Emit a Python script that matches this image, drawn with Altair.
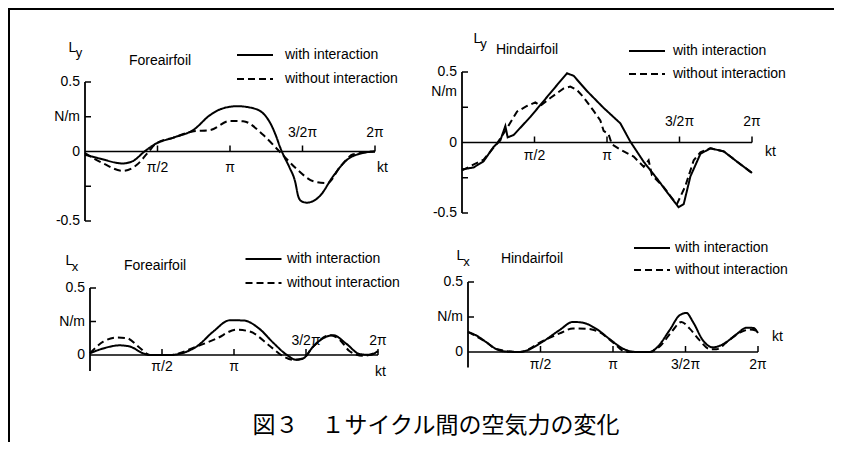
import altair as alt
import pandas as pd

FONT = "Liberation Sans"
CJK = "Noto Sans CJK JP"

series_names = ["with interaction", "without interaction"]

# x values are kt / pi (0 .. 2)
x_tick_values = [0.5, 1.0, 1.5, 2.0]
x_tick_labels = ["π/2", "π", "3/2π", "2π"]

# ---------------- Panel 1: Foreairfoil, Ly ----------------
fore_ly_with_x = [0, 0.10, 0.26, 0.33, 0.41, 0.49, 0.61, 0.75, 0.86, 0.95, 1.05, 1.18, 1.23, 1.28,
                  1.32, 1.345, 1.37, 1.41, 1.45, 1.47, 1.49, 1.53, 1.62, 1.71, 1.80, 1.92, 2.0]
fore_ly_with_y = [-0.024, -0.05, -0.086, -0.069, 0.0, 0.057, 0.10, 0.157, 0.26, 0.31, 0.326, 0.305,
                  0.273, 0.20, 0.105, 0.032, -0.029, -0.114, -0.22, -0.32, -0.356, -0.368, -0.32,
                  -0.18, -0.066, -0.01, 0.0]
fore_ly_without_x = [0, 0.13, 0.26, 0.36, 0.43, 0.49, 0.61, 0.75, 0.86, 1.0, 1.09, 1.23, 1.345,
                     1.46, 1.575, 1.67, 1.76, 1.85, 2.0]
fore_ly_without_y = [-0.012, -0.088, -0.139, -0.094, -0.013, 0.057, 0.10, 0.145, 0.153, 0.22, 0.218,
                     0.118, -0.004, -0.126, -0.214, -0.228, -0.11, -0.02, 0.0]

# ---------------- Panel 2: Hindairfoil, Ly ----------------
hind_ly_with_x = [0, 0.023, 0.08, 0.149, 0.218, 0.264, 0.299, 0.315, 0.356, 0.471, 0.563, 0.655,
                  0.724, 0.77, 0.862, 0.977, 1.092, 1.161, 1.253, 1.345, 1.414, 1.494, 1.529, 1.575,
                  1.644, 1.713, 1.805, 1.897, 2.0]
hind_ly_with_y = [-0.19, -0.187, -0.177, -0.133, -0.031, 0.014, 0.117, 0.036, 0.053, 0.181, 0.294,
                  0.407, 0.491, 0.473, 0.365, 0.245, 0.136, 0.006, -0.137, -0.256, -0.352, -0.459,
                  -0.437, -0.241, -0.081, -0.041, -0.063, -0.136, -0.216]
hind_ly_without_x = [0, 0.149, 0.241, 0.299, 0.379, 0.448, 0.506, 0.54, 0.609, 0.701, 0.747, 0.793,
                     0.839, 0.908, 0.954, 0.977, 1.011, 1.034, 1.092, 1.184, 1.253, 1.287, 1.31,
                     1.391, 1.46, 1.483, 1.54, 1.598, 1.644, 1.713, 1.805, 1.897, 2.0]
hind_ly_without_y = [-0.198, -0.121, -0.008, 0.083, 0.219, 0.259, 0.285, 0.26, 0.316, 0.383, 0.397,
                     0.372, 0.32, 0.224, 0.157, 0.082, 0.058, -0.013, -0.05, -0.10, -0.172, -0.126,
                     -0.232, -0.316, -0.411, -0.435, -0.31, -0.126, -0.069, -0.041, -0.063, -0.136,
                     -0.216]

# ---------------- Panel 3: Foreairfoil, Lx ----------------
fore_lx_with_x = [0, 0.092, 0.208, 0.277, 0.37, 0.416, 0.555, 0.74, 0.855, 0.971, 1.064, 1.179,
                  1.272, 1.364, 1.434, 1.48, 1.549, 1.618, 1.688, 1.78, 1.873, 1.942, 2.0]
fore_lx_with_y = [0.013, 0.049, 0.072, 0.063, 0.012, 0.0, 0.0, 0.063, 0.174, 0.259, 0.258, 0.193,
                  0.092, 0.003, -0.036, -0.026, 0.062, 0.124, 0.148, 0.084, 0.007, 0.001, 0.03]
fore_lx_without_x = [0, 0.092, 0.185, 0.254, 0.347, 0.416, 0.555, 0.74, 0.879, 1.017, 1.11, 1.249,
                     1.341, 1.41, 1.48, 1.549, 1.665, 1.734, 1.803, 1.896, 2.0]
fore_lx_without_y = [0.013, 0.099, 0.13, 0.126, 0.052, 0.0, 0.0, 0.063, 0.123, 0.189, 0.175, 0.067,
                     -0.009, -0.036, -0.026, 0.062, 0.148, 0.114, 0.028, -0.006, 0.025]

# ---------------- Panel 4: Hindairfoil, Lx ----------------
hind_lx_with_x = [0, 0.057, 0.126, 0.195, 0.264, 0.356, 0.402, 0.517, 0.632, 0.724, 0.793, 0.885,
                  0.977, 1.069, 1.161, 1.253, 1.299, 1.391, 1.46, 1.506, 1.552, 1.621, 1.69, 1.759,
                  1.851, 1.92, 1.966, 2.0]
hind_lx_with_y = [0.143, 0.118, 0.07, 0.021, 0.003, 0.0, 0.01, 0.075, 0.157, 0.215, 0.209, 0.165,
                  0.092, 0.024, 0.0, 0.0, 0.028, 0.157, 0.263, 0.279, 0.214, 0.082, 0.033, 0.056,
                  0.126, 0.173, 0.172, 0.136]
hind_lx_without_x = [0, 0.126, 0.195, 0.356, 0.517, 0.632, 0.724, 0.816, 0.908, 1.0, 1.092, 1.253,
                     1.322, 1.414, 1.471, 1.529, 1.598, 1.667, 1.713, 1.782, 1.874, 1.943, 2.0]
hind_lx_without_y = [0.143, 0.07, 0.021, 0.0, 0.08, 0.133, 0.168, 0.166, 0.141, 0.068, 0.0, 0.0,
                     0.04, 0.157, 0.215, 0.167, 0.083, 0.021, 0.02, 0.068, 0.138, 0.16, 0.148]

# y-axis labels / ticks
ly_label_values = [0.5, 0.25, 0.0, -0.5]
hind_ly_label_values = [0.5, 0.36, 0.0, -0.5]
ly_label_text = ["0.5", "N/m", "0", "-0.5"]
ly_tick_values = [0.5, 0.25, -0.25, -0.5]
lx_label_values = [0.5, 0.25, 0.0]
lx_label_text = ["0.5", "N/m", "0"]
lx_tick_values = [0.5, 0.25]

caption = "図３　１サイクル間の空気力の変化"

# ---------------- layout (pixels, chart coordinates) ----------------
panels = [
    dict(name="Foreairfoil", sym="L", sub="y",
         wx=fore_ly_with_x, wy=fore_ly_with_y, ox=fore_ly_without_x, oy=fore_ly_without_y,
         x_range=[77, 367], y_range=[213, 74], y_domain=[-0.5, 0.5], axis_lo=-0.5,
         lab_v=ly_label_values, lab_t=ly_label_text, ticks=ly_tick_values,
         above=[1.5, 2.0], dy_below=16, dy_above=-19, kt_dx=2, kt_dy=16, interp="monotone",
         L=(64.5, 39.5), S=(71, 44.5), T=(152, 53),
         leg=dict(x=237, y=37, rp=7, lo=20)),
    dict(name="Hindairfoil", sym="L", sub="y",
         wx=hind_ly_with_x, wy=hind_ly_with_y, ox=hind_ly_without_x, oy=hind_ly_without_y,
         x_range=[454, 744], y_range=[205, 64], y_domain=[-0.5, 0.5], axis_lo=-0.5,
         lab_v=hind_ly_label_values, lab_t=ly_label_text, ticks=ly_tick_values,
         above=[1.5, 2.0], dy_below=13, dy_above=-21, kt_dx=13, kt_dy=9, interp="linear",
         L=(469.5, 31), S=(475.5, 36), T=(519, 42),
         leg=dict(x=629, y=33, rp=6, lo=16)),
    dict(name="Foreairfoil", sym="L", sub="x",
         wx=fore_lx_with_x, wy=fore_lx_with_y, ox=fore_lx_without_x, oy=fore_lx_without_y,
         x_range=[82, 370], y_range=[347, 280], y_domain=[0, 0.5], axis_lo=-0.12,
         lab_v=lx_label_values, lab_t=lx_label_text, ticks=lx_tick_values,
         above=[1.5, 2.0], dy_below=12, dy_above=-14, kt_dx=-3, kt_dy=17, interp="monotone",
         L=(61.5, 253), S=(67, 258.5), T=(147, 258),
         leg=dict(x=245.5, y=241, rp=7, lo=13.5)),
    dict(name="Hindairfoil", sym="L", sub="x",
         wx=hind_lx_with_x, wy=hind_lx_with_y, ox=hind_lx_without_x, oy=hind_lx_without_y,
         x_range=[460, 750], y_range=[344, 274], y_domain=[0, 0.5], axis_lo=-0.11,
         lab_v=lx_label_values, lab_t=lx_label_text, ticks=lx_tick_values,
         above=[], dy_below=13, dy_above=-14, kt_dx=14, kt_dy=-15, interp="monotone",
         L=(452.5, 248), S=(458.5, 253.5), T=(524, 251),
         leg=dict(x=634, y=230, rp=5, lo=13)),
]

one = pd.DataFrame({"k": [0]})


def build_panel(p):
    xsc = alt.Scale(domain=[0, 2], range=p["x_range"], nice=False, zero=False)
    ysc = alt.Scale(domain=p["y_domain"], range=p["y_range"], nice=False, zero=False)

    def X(f):
        return alt.X(f, type="quantitative", scale=xsc, axis=None)

    def Y(f):
        return alt.Y(f, type="quantitative", scale=ysc, axis=None)

    layers = []
    df = pd.concat([
        pd.DataFrame({"kt": p["wx"], "L": p["wy"], "series": series_names[0]}),
        pd.DataFrame({"kt": p["ox"], "L": p["oy"], "series": series_names[1]}),
    ])
    lg = p["leg"]
    layers.append(
        alt.Chart(df).mark_line(color="black", strokeWidth=2, interpolate=p["interp"]).encode(
            x=X("kt"), y=Y("L"),
            strokeDash=alt.StrokeDash(
                "series:N",
                scale=alt.Scale(domain=series_names, range=[[1, 0], [7, 4]]),
                legend=alt.Legend(
                    orient="none", legendX=lg["x"], legendY=lg["y"], title=None,
                    symbolType="M-2,0H2", symbolSize=324, symbolStrokeWidth=1.8,
                    symbolStrokeColor="black", symbolFillColor="transparent",
                    labelFont=FONT, labelFontSize=14, labelColor="black",
                    rowPadding=lg["rp"], labelOffset=lg["lo"], padding=0,
                ),
            ),
        )
    )
    # x axis (zero line)
    layers.append(
        alt.Chart(pd.DataFrame({"a": [0], "b": [2], "y": [0]})).mark_rule(
            color="black", strokeWidth=1.5).encode(x=X("a"), x2=alt.X2("b"), y=Y("y"))
    )
    # y axis line
    layers.append(
        alt.Chart(pd.DataFrame({"x": [0], "lo": [p["axis_lo"]], "hi": [p["y_domain"][1]]})).mark_rule(
            color="black", strokeWidth=1.8).encode(x=X("x"), y=Y("lo"), y2=alt.Y2("hi"))
    )
    # y ticks (inward)
    layers.append(
        alt.Chart(pd.DataFrame({"x": 0, "v": p["ticks"]})).mark_rule(
            color="black", strokeWidth=1.5, x2Offset=6).encode(x=X("x"), x2=alt.X2("x"), y=Y("v"))
    )
    # x ticks (upward)
    layers.append(
        alt.Chart(pd.DataFrame({"v": x_tick_values, "y": 0})).mark_rule(
            color="black", strokeWidth=1.5, y2Offset=-6).encode(x=X("v"), y=Y("y"), y2=alt.Y2("y"))
    )
    # x tick labels
    tl = pd.DataFrame({"v": x_tick_values, "t": x_tick_labels, "y": 0})
    below = tl[~tl["v"].isin(p["above"])]
    above = tl[tl["v"].isin(p["above"])]
    for part, dy in ((below, p["dy_below"]), (above, p["dy_above"])):
        if len(part):
            layers.append(
                alt.Chart(part).mark_text(font=FONT, fontSize=14, color="black",
                                          baseline="middle", dy=dy).encode(
                    x=X("v"), y=Y("y"), text="t:N")
            )
    # kt label
    layers.append(
        alt.Chart(pd.DataFrame({"v": [2], "y": [0], "t": ["kt"]})).mark_text(
            font=FONT, fontSize=14, color="black", align="left", baseline="middle",
            dx=p["kt_dx"], dy=p["kt_dy"]).encode(x=X("v"), y=Y("y"), text="t:N")
    )
    # y labels
    layers.append(
        alt.Chart(pd.DataFrame({"x": 0, "v": p["lab_v"], "t": p["lab_t"]})).mark_text(
            font=FONT, fontSize=14, color="black", align="right", baseline="middle", dx=-5).encode(
            x=X("x"), y=Y("v"), text="t:N")
    )
    # symbol L with subscript, and airfoil name
    for txt, pos, size in ((p["sym"], p["L"], 14), (p["sub"], p["S"], 13), (p["name"], p["T"], 14)):
        layers.append(
            alt.Chart(one).mark_text(font=FONT, fontSize=size, color="black",
                                     align="center", baseline="middle").encode(
                x=alt.value(pos[0]), y=alt.value(pos[1]), text=alt.value(txt))
        )
    return layers


all_layers = []
# frame: top and left edges of the scanned figure box
all_layers.append(
    alt.Chart(one).mark_rule(color="black", strokeWidth=2).encode(
        x=alt.value(0), x2=alt.value(826), y=alt.value(1))
)
all_layers.append(
    alt.Chart(one).mark_rule(color="black", strokeWidth=2).encode(
        x=alt.value(1), y=alt.value(0), y2=alt.value(434))
)
for p in panels:
    all_layers.extend(build_panel(p))

all_layers.append(
    alt.Chart(one).mark_text(font=CJK, fontSize=23, color="black", align="center",
                             baseline="middle").encode(
        x=alt.value(428), y=alt.value(418), text=alt.value(caption))
)

chart = (
    alt.layer(*all_layers)
    .resolve_scale(x="independent", y="independent", strokeDash="independent")
    .resolve_legend(strokeDash="independent")
    .properties(width=826, height=434, padding=0, autosize=alt.AutoSizeParams(type="none"),
                background="white")
    .configure_view(strokeWidth=0)
)

chart.save("out.html", embed_options={"renderer": "svg", "actions": False})
